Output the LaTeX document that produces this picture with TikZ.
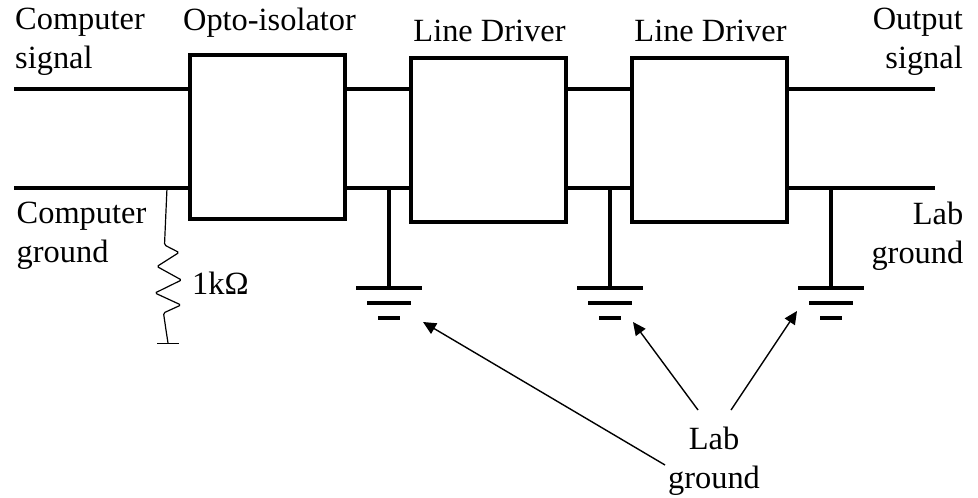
\documentclass[tikz,border=0pt]{standalone}
\usepackage{fontspec}
\setmainfont{Liberation Serif}
\usetikzlibrary{arrows.meta}
\tikzset{
  x=1pt,y=-1pt,
  block/.style={draw=black,line width=4.4pt,fill=white,inner sep=0pt,outer sep=0pt,minimum width=155pt,minimum height=164pt,anchor=north west},
  wire/.style={line width=4.4pt,line cap=butt},
  gbar/.style={line width=4.4pt},
  thin wire/.style={line width=1.2pt},
  pointer/.style={line width=1.4pt,-{Triangle[length=13pt,width=12pt]}},
  lab/.style={font=\fontsize{32.4}{39}\selectfont,inner sep=0pt,text=black},
}
\begin{document}
\begin{tikzpicture}
\useasboundingbox (0,0) rectangle (978,498);
\coordinate (sigL) at (14,89);
\coordinate (gndL) at (14,188);
\coordinate (sigR) at (935,89);
\coordinate (gndR) at (935,188);
\node[block] (opto) at (190,55) {};
\node[block] (ld1) at (411,58) {};
\node[block] (ld2) at (632,58) {};
\draw[wire] (sigL) -- (sigL -| opto.west);
\draw[wire] (gndL) -- (gndL -| opto.west);
\draw[wire] (sigL -| opto.east) -- (sigL -| ld1.west);
\draw[wire] (gndL -| opto.east) -- (gndL -| ld1.west);
\draw[wire] (sigL -| ld1.east) -- (sigL -| ld2.west);
\draw[wire] (gndL -| ld1.east) -- (gndL -| ld2.west);
\draw[wire] (sigL -| ld2.east) -- (sigR);
\draw[wire] (gndL -| ld2.east) -- (gndR);
% grounds
\foreach \n/\xx in {a/389,b/610,c/831}{
  \coordinate (top\n) at (\xx,188);
  \coordinate (g\n) at (\xx,288);
  \draw[wire] (top\n) -- (g\n);
  \draw[gbar] (\xx-33,288) -- (\xx+33,288);
  \draw[gbar] (\xx-22,303) -- (\xx+22,303);
  \draw[gbar] (\xx-11,318) -- (\xx+11,318);
}
% resistor
\coordinate (rtop) at (167,188);
\coordinate (rbot) at (168,343);
\draw[thin wire,rounded corners=1.5pt] (rtop) -- (164.5,245) -- (179,252.5) -- (157,266.5) -- (181.5,280) -- (155,293) -- (181,305) -- (163.5,313) -- (166,330) -- (rbot);
\draw[thin wire] (157,343.5) -- (179,343.5);
% labels
\node[lab,anchor=north west,align=left] (t1) at (15,8) {Computer\\signal};
\node[lab,anchor=base] (t2) at (269.5,30) {Opto-isolator};
\node[lab,anchor=base] (t3) at (489.5,41) {Line Driver};
\node[lab,anchor=base] (t4) at (710.5,41) {Line Driver};
\node[lab,anchor=north east,align=right] (t5) at (963,8) {Output\\signal};
\node[lab,anchor=north west,align=left] (t6) at (16.5,202) {Computer\\ground};
\node[lab,anchor=north east,align=right] (t7) at (963.5,202) {Lab\\ground};
\node[lab,anchor=base west] (t8) at (192,294) {1kΩ};
\node[lab,anchor=north,align=center] (t9) at (714,426.5) {Lab\\ground};
% pointers
\coordinate (p1s) at (665,465);
\coordinate (p1e) at (423,322);
\coordinate (p2s) at (698,410);
\coordinate (p2e) at (633,322);
\coordinate (p3s) at (731,410);
\coordinate (p3e) at (797,311);
\draw[pointer] (p1s) -- (p1e);
\draw[pointer] (p2s) -- (p2e);
\draw[pointer] (p3s) -- (p3e);
\end{tikzpicture}
\end{document}
